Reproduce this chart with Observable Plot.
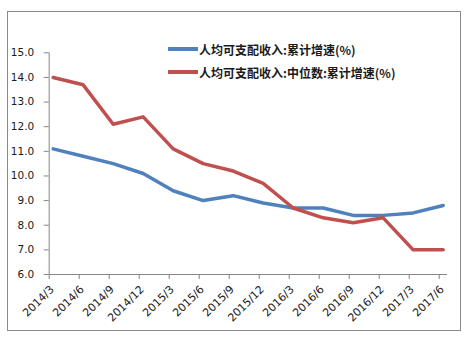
<!DOCTYPE html>
<html>
<head>
<meta charset="utf-8">
<script src="https://cdn.jsdelivr.net/npm/d3@7"></script>
<script src="https://cdn.jsdelivr.net/npm/@observablehq/plot@0.6"></script>
<style>
  html, body { margin: 0; padding: 0; background: #fff; }
  #wrap { position: relative; width: 468px; height: 338px; overflow: hidden; }
  #border { position: absolute; left: 7px; top: 11px; width: 452px; height: 318px; border: 1.5px solid #8a8a8a; pointer-events: none; }
  .leg { position: absolute; left: 168px; height: 16px; display: flex; align-items: center;
         font-family: "Noto Sans CJK SC", sans-serif; font-size: 12px; font-weight: 700; color: #1a1a1a; white-space: nowrap; }
  .leg .sw { width: 30px; height: 3.5px; margin-right: 1px; }
</style>
</head>
<body>
<div id="wrap">
  <div id="chart"></div>
  <div id="border"></div>
  <div id="legend"></div>
</div>
<script>
const quarters = ["2014/3","2014/6","2014/9","2014/12","2015/3","2015/6","2015/9","2015/12","2016/3","2016/6","2016/9","2016/12","2017/3","2017/6"];
const incomeGrowth = [11.1,10.8,10.5,10.1,9.4,9.0,9.2,8.9,8.7,8.7,8.4,8.4,8.5,8.8];
const medianGrowth = [14.0,13.7,12.1,12.4,11.1,10.5,10.2,9.7,8.7,8.3,8.1,8.3,7.0,7.0];
const yTicks = [6,7,8,9,10,11,12,13,14,15];
const seriesNames = ["人均可支配收入:累计增速(%)", "人均可支配收入:中位数:累计增速(%)"];
const seriesColors = ["#4F81BD", "#C0504D"];

const tickOffset = -0.133;
const idx = quarters.map((_, i) => i);
const axisColor = "#868686";
const font = "DejaVu Sans, sans-serif";

const chart = Plot.plot({
  width: 468,
  height: 338,
  marginLeft: 48.7,
  marginRight: 22,
  marginTop: 52.3,
  marginBottom: 64,
  style: { fontFamily: font, fontSize: "10.5px", color: "#1a1a1a", background: "transparent" },
  x: { type: "linear", domain: [tickOffset, 13.11] },
  y: { domain: [6, 15] },
  marks: [
    Plot.frame({ anchor: "left", stroke: axisColor }),
    Plot.frame({ anchor: "bottom", stroke: axisColor }),
    Plot.axisY({ ticks: yTicks, tickFormat: d => d.toFixed(1), tickSize: 5, tickPadding: 10, stroke: axisColor, fill: "#1a1a1a", label: null }),
    Plot.axisX({ ticks: idx.map(i => i + tickOffset), tickFormat: () => "", tickSize: 5, stroke: axisColor, label: null }),
    Plot.text(quarters, { x: (d, i) => i, y: () => 6, text: d => d, rotate: -45, textAnchor: "end", dy: 13, dx: -1, fill: "#1a1a1a", fontSize: 11 }),
    Plot.lineY(incomeGrowth, { x: (d, i) => i, y: d => d, stroke: seriesColors[0], strokeWidth: 3.5 }),
    Plot.lineY(medianGrowth, { x: (d, i) => i, y: d => d, stroke: seriesColors[1], strokeWidth: 3.5 })
  ]
});
document.getElementById("chart").appendChild(chart);

const legend = document.getElementById("legend");
const legendTops = [41, 64];
seriesNames.forEach((name, k) => {
  const row = document.createElement("div");
  row.className = "leg";
  row.style.top = legendTops[k] + "px";
  const sw = document.createElement("span");
  sw.className = "sw";
  sw.style.background = seriesColors[k];
  const t = document.createElement("span");
  t.textContent = name;
  row.appendChild(sw);
  row.appendChild(t);
  legend.appendChild(row);
});
</script>
</body>
</html>
